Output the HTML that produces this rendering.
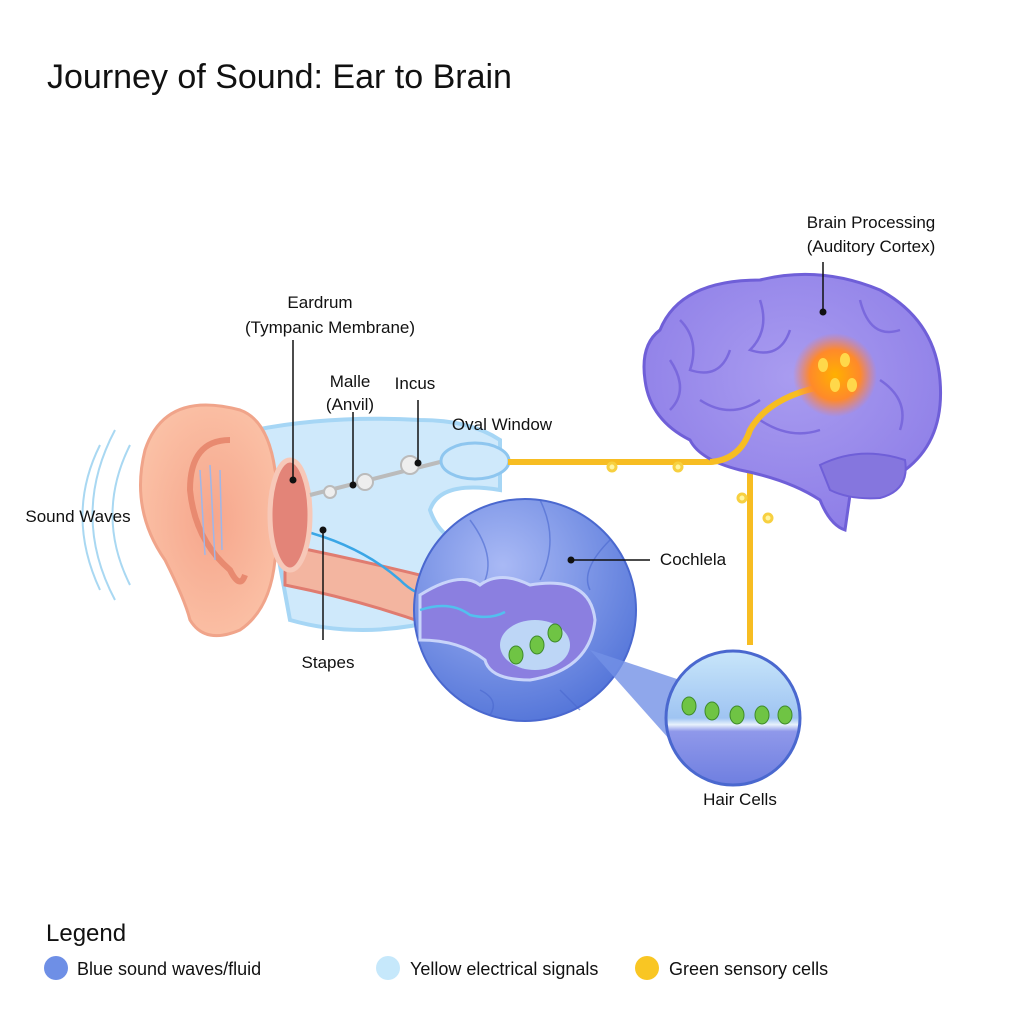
<!DOCTYPE html>
<html><head><meta charset="utf-8"><style>
html,body{margin:0;padding:0;background:#fff;}
svg{display:block;font-family:"Liberation Sans",sans-serif;}
</style></head><body>
<svg width="1024" height="1024" viewBox="0 0 1024 1024">
<defs>
<radialGradient id="coch" cx="0.4" cy="0.3" r="0.8"><stop offset="0" stop-color="#a9b9f5"/><stop offset="1" stop-color="#4c6fd6"/></radialGradient>
<radialGradient id="brain" cx="0.5" cy="0.4" r="0.7"><stop offset="0" stop-color="#a99cf0"/><stop offset="1" stop-color="#8a7ae6"/></radialGradient>
<radialGradient id="glow" cx="0.5" cy="0.5" r="0.5"><stop offset="0" stop-color="#ffb000"/><stop offset="0.6" stop-color="#ff8a2a"/><stop offset="1" stop-color="#ff7a50" stop-opacity="0"/></radialGradient>
<radialGradient id="ear" cx="0.5" cy="0.5" r="0.6"><stop offset="0" stop-color="#f6a68c"/><stop offset="1" stop-color="#fbc3a8"/></radialGradient>
<linearGradient id="hc" x1="0" y1="0" x2="0" y2="1"><stop offset="0" stop-color="#c8e6fa"/><stop offset="0.5" stop-color="#9fc4f2"/><stop offset="0.55" stop-color="#e8f2fc"/><stop offset="0.6" stop-color="#8f98ea"/><stop offset="1" stop-color="#6f7fe0"/></linearGradient>
</defs>
<text x="47" y="88" font-size="34" fill="#111">Journey of Sound: Ear to Brain</text>

<g fill="none" stroke="#a9d8f2" stroke-width="2">
<path d="M115 430 Q70 515 115 600"/><path d="M100 445 Q65 515 100 590"/><path d="M130 445 Q95 515 130 585"/>
</g>
<path d="M255 430 Q330 415 420 420 Q470 420 500 440 L500 490 Q440 480 430 510 Q440 540 470 545 L440 620 Q360 640 290 620 Z" fill="#cfe9fb" stroke="#a6d6f5" stroke-width="4"/>
<path d="M285 545 Q360 560 440 580 L430 625 Q360 600 285 585 Z" fill="#f3b5a0" stroke="#e07c70" stroke-width="3"/>
<path d="M300 530 Q360 545 400 580 Q420 600 440 595" fill="none" stroke="#3aa6e6" stroke-width="2.5"/>
<path d="M240 410 Q165 390 145 450 Q130 510 165 560 Q185 600 190 620 Q205 645 240 630 Q270 610 275 560 Q290 520 275 470 Q268 420 240 410 Z" fill="url(#ear)" stroke="#f0a48a" stroke-width="3"/>
<path d="M230 440 Q190 440 190 490 Q195 540 230 570 Q240 590 245 575" fill="none" stroke="#e88a70" stroke-width="6"/>
<g stroke="#9fb6e8" stroke-width="1.5"><line x1="200" y1="470" x2="205" y2="555"/><line x1="210" y1="465" x2="215" y2="560"/><line x1="220" y1="470" x2="222" y2="550"/></g>
<ellipse cx="290" cy="515" rx="20" ry="55" fill="#e38478" stroke="#f7c8b8" stroke-width="5"/>
<g fill="#eee" stroke="#bbb" stroke-width="2">
<line x1="310" y1="495" x2="440" y2="462" stroke-width="4"/>
<circle cx="330" cy="492" r="6"/><circle cx="365" cy="482" r="8"/><circle cx="410" cy="465" r="9"/>
</g>
<ellipse cx="475" cy="461" rx="34" ry="18" fill="#cfe9fb" stroke="#8ec6ef" stroke-width="3"/>
<g fill="none" stroke="#f7bd22" stroke-width="6">
<path d="M508 462 L710 462 Q740 460 750 430 Q770 395 830 385"/>
<path d="M750 440 L750 645"/>
</g>
<g fill="#fff5a0" stroke="#f7d040" stroke-width="3"><circle cx="612" cy="467" r="4"/><circle cx="678" cy="467" r="4"/><circle cx="742" cy="498" r="4"/><circle cx="768" cy="518" r="4"/></g>
<path d="M660 330 Q680 280 760 280 Q820 265 880 290 Q935 320 940 380 Q945 440 905 470 Q890 500 850 495 L845 530 Q830 525 820 500 Q790 480 740 470 Q700 460 690 440 Q650 420 645 380 Q640 345 660 330 Z" fill="url(#brain)" stroke="#6f5fd8" stroke-width="3"/>
<path d="M820 465 Q860 445 905 460 Q910 490 880 498 Q850 500 830 490 Z" fill="#8576de" stroke="#6f5fd8" stroke-width="2"/>
<g fill="none" stroke="#7a69dd" stroke-width="2.5"><path d="M680 320 Q700 340 690 370 Q720 380 730 350"/><path d="M760 300 Q770 330 750 350 Q780 360 790 330"/><path d="M860 300 Q870 340 900 330"/><path d="M700 400 Q730 420 760 400"/><path d="M880 380 Q910 400 900 430"/><path d="M670 360 Q690 390 670 410"/><path d="M760 420 Q790 440 820 430"/></g>
<path d="M710 462 Q740 460 750 430 Q770 395 830 385" fill="none" stroke="#f7bd22" stroke-width="6"/>
<circle cx="835" cy="375" r="42" fill="url(#glow)"/>
<g fill="#ffd84a"><ellipse cx="823" cy="365" rx="5" ry="7"/><ellipse cx="845" cy="360" rx="5" ry="7"/><ellipse cx="835" cy="385" rx="5" ry="7"/><ellipse cx="852" cy="385" rx="5" ry="7"/></g>
<circle cx="525" cy="610" r="111" fill="url(#coch)" stroke="#4a68cf" stroke-width="2"/>
<g fill="none" stroke="#4a68cf" stroke-width="1.5" opacity="0.6"><path d="M470 520 Q500 560 480 590"/><path d="M540 500 Q560 540 540 580"/><path d="M610 540 Q580 570 590 590"/><path d="M480 690 Q500 700 490 715"/><path d="M560 690 Q570 700 580 710"/></g>
<path d="M420 595 Q460 570 480 585 Q500 570 530 585 Q590 575 595 620 Q590 670 530 680 Q490 680 485 660 Q460 640 420 640 Z" fill="#8b7fe0" stroke="#c8d4fa" stroke-width="3"/>
<ellipse cx="535" cy="645" rx="35" ry="25" fill="#bdd6f6"/>
<g fill="#6fc444" stroke="#3d8a2a"><ellipse cx="516" cy="655" rx="7" ry="9"/><ellipse cx="537" cy="645" rx="7" ry="9"/><ellipse cx="555" cy="633" rx="7" ry="9"/></g>
<path d="M420 610 Q450 600 470 615 Q490 620 505 612" fill="none" stroke="#52c0ee" stroke-width="2.5"/>
<path d="M590 650 L680 680 L670 740 Z" fill="#7391e6" opacity="0.8"/>
<circle cx="733" cy="718" r="67" fill="url(#hc)" stroke="#4a68cf" stroke-width="3"/>
<g fill="#6fc444" stroke="#3d8a2a"><ellipse cx="689" cy="706" rx="7" ry="9"/><ellipse cx="712" cy="711" rx="7" ry="9"/><ellipse cx="737" cy="715" rx="7" ry="9"/><ellipse cx="762" cy="715" rx="7" ry="9"/><ellipse cx="785" cy="715" rx="7" ry="9"/></g>
<g stroke="#111" stroke-width="1.5" fill="none">
<line x1="293" y1="340" x2="293" y2="480"/><line x1="353" y1="412" x2="353" y2="485"/><line x1="418" y1="400" x2="418" y2="462"/><line x1="573" y1="560" x2="650" y2="560"/><line x1="323" y1="530" x2="323" y2="640"/><line x1="823" y1="262" x2="823" y2="310"/>
</g>
<g fill="#111"><circle cx="293" cy="480" r="3.5"/><circle cx="353" cy="485" r="3.5"/><circle cx="418" cy="463" r="3.5"/><circle cx="571" cy="560" r="3.5"/><circle cx="323" cy="530" r="3.5"/><circle cx="823" cy="312" r="3.5"/></g>
<g font-size="17" fill="#111" text-anchor="middle">
<text x="320" y="308">Eardrum</text>
<text x="330" y="333">(Tympanic Membrane)</text>
<text x="350" y="387">Malle</text>
<text x="350" y="410">(Anvil)</text>
<text x="415" y="389">Incus</text>
<text x="502" y="430">Oval Window</text>
<text x="78" y="522">Sound Waves</text>
<text x="693" y="565">Cochlela</text>
<text x="328" y="668">Stapes</text>
<text x="740" y="805">Hair Cells</text>
<text x="871" y="228">Brain Processing</text>
<text x="871" y="252">(Auditory Cortex)</text>
</g>
<g>
<text x="46" y="941" font-size="24" fill="#111">Legend</text>
<circle cx="56" cy="968" r="12" fill="#6e8fe6"/><text x="77" y="975" font-size="18" fill="#111">Blue sound waves/fluid</text>
<circle cx="388" cy="968" r="12" fill="#c6e8fb"/><text x="410" y="975" font-size="18" fill="#111">Yellow electrical signals</text>
<circle cx="647" cy="968" r="12" fill="#f9c623"/><text x="669" y="975" font-size="18" fill="#111">Green sensory cells</text>
</g>
</svg>
</body></html>
